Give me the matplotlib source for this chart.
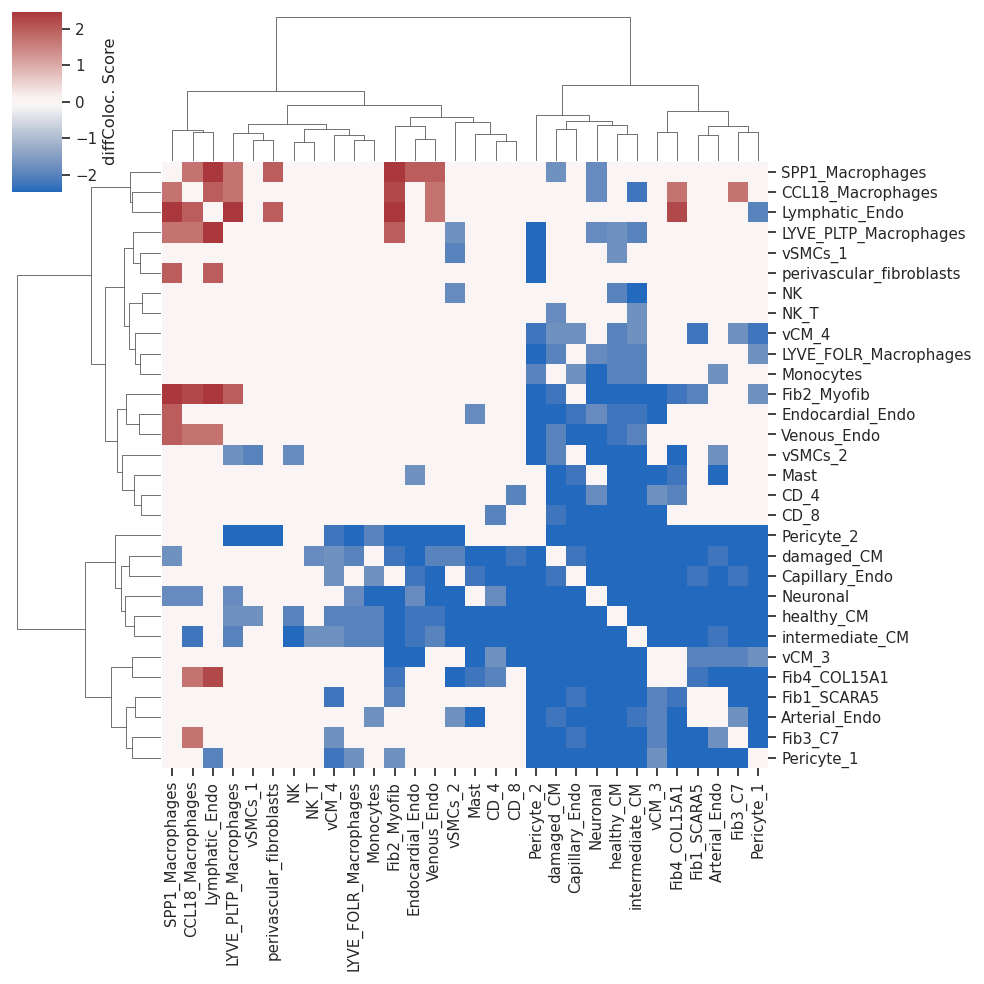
import numpy as np
import pandas as pd
import matplotlib
matplotlib.use("Agg")
import matplotlib.pyplot as plt
from matplotlib.collections import LineCollection
import seaborn as sns

# -------------------------------
# 1. Data (clustered order, same for rows and columns)
# -------------------------------
cell_types = [
    "SPP1_Macrophages", "CCL18_Macrophages", "Lymphatic_Endo", "LYVE_PLTP_Macrophages",
    "vSMCs_1", "perivascular_fibroblasts", "NK", "NK_T", "vCM_4", "LYVE_FOLR_Macrophages",
    "Monocytes", "Fib2_Myofib", "Endocardial_Endo", "Venous_Endo", "vSMCs_2", "Mast",
    "CD_4", "CD_8", "Pericyte_2", "damaged_CM", "Capillary_Endo", "Neuronal", "healthy_CM",
    "intermediate_CM", "vCM_3", "Fib4_COL15A1", "Fib1_SCARA5", "Arterial_Endo", "Fib3_C7",
    "Pericyte_1",
]

scores = [
    [0, 1.7, 2.47, 1.7, 0, 2.0, 0, 0, 0, 0,
     0, 2.47, 2.0, 2.0, 0, 0, 0, 0, 0, -1.75,
     0, -1.85, 0, 0, 0, 0, 0, 0, 0, 0],
    [1.7, 0, 2.0, 1.7, 0, 0, 0, 0, 0, 0,
     0, 2.25, 0, 1.7, 0, 0, 0, 0, 0, 0,
     0, -1.85, 0, -2.25, 0, 1.7, 0, 0, 1.7, 0],
    [2.47, 2.0, 0, 2.47, 0, 2.0, 0, 0, 0, 0,
     0, 2.47, 0, 1.7, 0, 0, 0, 0, 0, 0,
     0, 0, 0, 0, 0, 2.25, 0, 0, 0, -2.0],
    [1.7, 1.7, 2.47, 0, 0, 0, 0, 0, 0, 0,
     0, 2.0, 0, 0, -1.75, 0, 0, 0, -2.47, 0,
     0, -1.85, -1.75, -2.0, 0, 0, 0, 0, 0, 0],
    [0, 0, 0, 0, 0, 0, 0, 0, 0, 0,
     0, 0, 0, 0, -2.0, 0, 0, 0, -2.47, 0,
     0, 0, -1.75, 0, 0, 0, 0, 0, 0, 0],
    [2.0, 0, 2.0, 0, 0, 0, 0, 0, 0, 0,
     0, 0, 0, 0, 0, 0, 0, 0, -2.47, 0,
     0, 0, 0, 0, 0, 0, 0, 0, 0, 0],
    [0, 0, 0, 0, 0, 0, 0, 0, 0, 0,
     0, 0, 0, 0, -1.85, 0, 0, 0, 0, 0,
     0, 0, -2.0, -2.47, 0, 0, 0, 0, 0, 0],
    [0, 0, 0, 0, 0, 0, 0, 0, 0, 0,
     0, 0, 0, 0, 0, 0, 0, 0, 0, -1.85,
     0, 0, 0, -1.75, 0, 0, 0, 0, 0, 0],
    [0, 0, 0, 0, 0, 0, 0, 0, 0, 0,
     0, 0, 0, 0, 0, 0, 0, 0, -2.25, -1.75,
     -1.75, 0, -2.0, -1.75, 0, 0, -2.25, 0, -1.75, -2.25],
    [0, 0, 0, 0, 0, 0, 0, 0, 0, 0,
     0, 0, 0, 0, 0, 0, 0, 0, -2.47, -2.0,
     0, -1.85, -2.0, -2.0, 0, 0, 0, 0, 0, -1.75],
    [0, 0, 0, 0, 0, 0, 0, 0, 0, 0,
     0, 0, 0, 0, 0, 0, 0, 0, -2.0, 0,
     -1.75, -2.47, -2.0, -2.0, 0, 0, 0, -1.75, 0, 0],
    [2.47, 2.25, 2.47, 2.0, 0, 0, 0, 0, 0, 0,
     0, 0, 0, 0, 0, 0, 0, 0, -2.47, -2.25,
     0, -2.47, -2.47, -2.47, -2.47, -2.25, -2.0, 0, 0, -1.75],
    [2.0, 0, 0, 0, 0, 0, 0, 0, 0, 0,
     0, 0, 0, 0, 0, -1.85, 0, 0, -2.47, -2.47,
     -2.25, -1.85, -2.25, -2.25, -2.47, 0, 0, 0, 0, 0],
    [2.0, 1.7, 1.7, 0, 0, 0, 0, 0, 0, 0,
     0, 0, 0, 0, 0, 0, 0, 0, -2.47, -2.0,
     -2.47, -2.47, -2.25, -2.0, 0, 0, 0, 0, 0, 0],
    [0, 0, 0, -1.75, -2.0, 0, -1.85, 0, 0, 0,
     0, 0, 0, 0, 0, 0, 0, 0, -2.47, -2.0,
     0, -2.47, -2.47, -2.47, 0, -2.47, 0, -1.75, 0, 0],
    [0, 0, 0, 0, 0, 0, 0, 0, 0, 0,
     0, 0, -1.75, 0, 0, 0, 0, 0, 0, -2.47,
     -2.25, 0, -2.47, -2.47, -2.47, -2.25, 0, -2.47, 0, 0],
    [0, 0, 0, 0, 0, 0, 0, 0, 0, 0,
     0, 0, 0, 0, 0, 0, 0, -2.0, 0, -2.47,
     -2.47, -1.85, -2.47, -2.47, -1.75, -2.0, 0, 0, 0, 0],
    [0, 0, 0, 0, 0, 0, 0, 0, 0, 0,
     0, 0, 0, 0, 0, 0, -2.0, 0, 0, -2.25,
     -2.47, -2.47, -2.47, -2.47, -2.47, 0, 0, 0, 0, 0],
    [0, 0, 0, -2.47, -2.47, -2.47, 0, 0, -2.25, -2.47,
     -2.0, -2.47, -2.47, -2.47, -2.47, 0, 0, 0, 0, -2.47,
     -2.47, -2.47, -2.47, -2.47, -2.47, -2.47, -2.47, -2.47, -2.47, -2.47],
    [-1.75, 0, 0, 0, 0, 0, 0, -1.85, -1.75, -2.0,
     0, -2.25, -2.47, -2.0, -2.0, -2.47, -2.47, -2.25, -2.47, 0,
     -2.25, -2.47, -2.47, -2.47, -2.47, -2.47, -2.47, -2.25, -2.47, -2.47],
    [0, 0, 0, 0, 0, 0, 0, 0, -1.75, 0,
     -1.75, 0, -2.25, -2.47, 0, -2.25, -2.47, -2.47, -2.47, -2.25,
     0, -2.47, -2.47, -2.47, -2.47, -2.47, -2.25, -2.47, -2.25, -2.47],
    [-1.85, -1.85, 0, -1.85, 0, 0, 0, 0, 0, -1.85,
     -2.47, -2.47, -1.85, -2.47, -2.47, 0, -1.85, -2.47, -2.47, -2.47,
     -2.47, 0, -2.47, -2.47, -2.47, -2.47, -2.47, -2.47, -2.47, -2.47],
    [0, 0, 0, -1.75, -1.75, 0, -2.0, 0, -2.0, -2.0,
     -2.0, -2.47, -2.25, -2.25, -2.47, -2.47, -2.47, -2.47, -2.47, -2.47,
     -2.47, -2.47, 0, -2.47, -2.47, -2.47, -2.47, -2.47, -2.47, -2.47],
    [0, -2.25, 0, -2.0, 0, 0, -2.47, -1.75, -1.75, -2.0,
     -2.0, -2.47, -2.25, -2.0, -2.47, -2.47, -2.47, -2.47, -2.47, -2.47,
     -2.47, -2.47, -2.47, 0, -2.47, -2.47, -2.47, -2.25, -2.47, -2.47],
    [0, 0, 0, 0, 0, 0, 0, 0, 0, 0,
     0, -2.47, -2.47, 0, 0, -2.47, -1.75, -2.47, -2.47, -2.47,
     -2.47, -2.47, -2.47, -2.47, 0, 0, -2.0, -2.0, -2.0, -1.75],
    [0, 1.7, 2.25, 0, 0, 0, 0, 0, 0, 0,
     0, -2.25, 0, 0, -2.47, -2.25, -2.0, 0, -2.47, -2.47,
     -2.47, -2.47, -2.47, -2.47, 0, 0, -2.25, -2.47, -2.47, -2.47],
    [0, 0, 0, 0, 0, 0, 0, 0, -2.25, 0,
     0, -2.0, 0, 0, 0, 0, 0, 0, -2.47, -2.47,
     -2.25, -2.47, -2.47, -2.47, -2.0, -2.25, 0, 0, -2.47, -2.47],
    [0, 0, 0, 0, 0, 0, 0, 0, 0, 0,
     -1.75, 0, 0, 0, -1.75, -2.47, 0, 0, -2.47, -2.25,
     -2.47, -2.47, -2.47, -2.25, -2.0, -2.47, 0, 0, -1.75, -2.47],
    [0, 1.7, 0, 0, 0, 0, 0, 0, -1.75, 0,
     0, 0, 0, 0, 0, 0, 0, 0, -2.47, -2.47,
     -2.25, -2.47, -2.47, -2.47, -2.0, -2.47, -2.47, -1.75, 0, -2.47],
    [0, 0, -2.0, 0, 0, 0, 0, 0, -2.25, -1.75,
     0, -1.75, 0, 0, 0, 0, 0, 0, -2.47, -2.47,
     -2.47, -2.47, -2.47, -2.47, -1.75, -2.47, -2.47, -2.47, -2.47, 0],
]

# linkage tree (shared by rows and columns): (left node, right node, height)
# leaves are 0..29 in display order, merge k becomes node 30 + k
merges = [
    (1, 2, 28.7), (0, 30, 30.7), (4, 5, 20.7), (3, 32, 27.7),
    (6, 7, 18.7), (9, 10, 20.7), (8, 35, 25.7), (34, 36, 31.7),
    (33, 37, 36.7), (12, 13, 21.7), (11, 39, 34.7), (16, 17, 19.7),
    (15, 41, 26.7), (14, 42, 38.7), (40, 43, 43.7), (38, 44, 55.7),
    (31, 45, 69.7), (19, 20, 31.7), (22, 23, 26.7), (21, 48, 35.7),
    (47, 49, 39.7), (18, 50, 45.7), (24, 25, 28.7), (26, 27, 25.7),
    (28, 29, 28.7), (53, 54, 34.7), (52, 55, 49.7), (51, 56, 75.7),
    (46, 57, 143.7),
]

df = pd.DataFrame(scores, index=cell_types, columns=cell_types)
vmax = np.abs(df.values).max()

# -------------------------------
# 2. Style
# -------------------------------
sns.set_theme(style="ticks")
plt.rcParams["font.family"] = ["DejaVu Sans"]

W = 984.0
fig = plt.figure(figsize=(10, 10), dpi=98.4)


def px_axes(x0, y0, x1, y1):
    # axes from pixel box (top-left origin)
    return fig.add_axes([x0 / W, 1 - y1 / W, (x1 - x0) / W, (y1 - y0) / W])


ax_heat = px_axes(162.2, 161.7, 768.2, 767.7)
ax_top = px_axes(162.2, 17.3, 768.2, 161.0)
ax_left = px_axes(17.3, 161.7, 161.0, 767.7)
ax_cbar = px_axes(12.0, 11.7, 62.0, 191.7)


# -------------------------------
# 3. Dendrograms
# -------------------------------
def dendro_segments(merges, n):
    pos = {i: 10 * i + 5 for i in range(n)}
    hgt = {i: 0.0 for i in range(n)}
    segs = []
    for k, (a, b, h) in enumerate(merges):
        xs = [pos[a], pos[a], pos[b], pos[b]]
        ys = [hgt[a], h, h, hgt[b]]
        segs.append(list(zip(xs, ys)))
        pos[n + k] = (pos[a] + pos[b]) / 2
        hgt[n + k] = h
    return segs, max(m[2] for m in merges)


n = len(cell_types)
segs, top_h = dendro_segments(merges, n)

ax_top.add_collection(LineCollection(segs, linewidths=0.5, colors=".2"))
ax_top.set_xlim(0, n * 10)
ax_top.set_ylim(0, top_h)
ax_top.set_axis_off()

segs_rot = [[(y, x) for x, y in s] for s in segs]
ax_left.add_collection(LineCollection(segs_rot, linewidths=0.5, colors=".2"))
ax_left.set_ylim(n * 10, 0)
ax_left.set_xlim(top_h, 0)
ax_left.set_axis_off()

# -------------------------------
# 4. Heatmap
# -------------------------------
sns.heatmap(df, ax=ax_heat, cmap="vlag", vmin=-vmax, vmax=vmax,
            cbar_ax=ax_cbar, cbar_kws={"label": "diffColoc. Score"},
            xticklabels=True, yticklabels=True)
ax_heat.yaxis.tick_right()
ax_heat.yaxis.set_label_position("right")
plt.setp(ax_heat.get_yticklabels(), rotation=0)
plt.setp(ax_heat.get_xticklabels(), rotation=90)
ax_heat.set_xlabel("")
ax_heat.set_ylabel("")

fig.savefig("out.png", dpi=98.4)
